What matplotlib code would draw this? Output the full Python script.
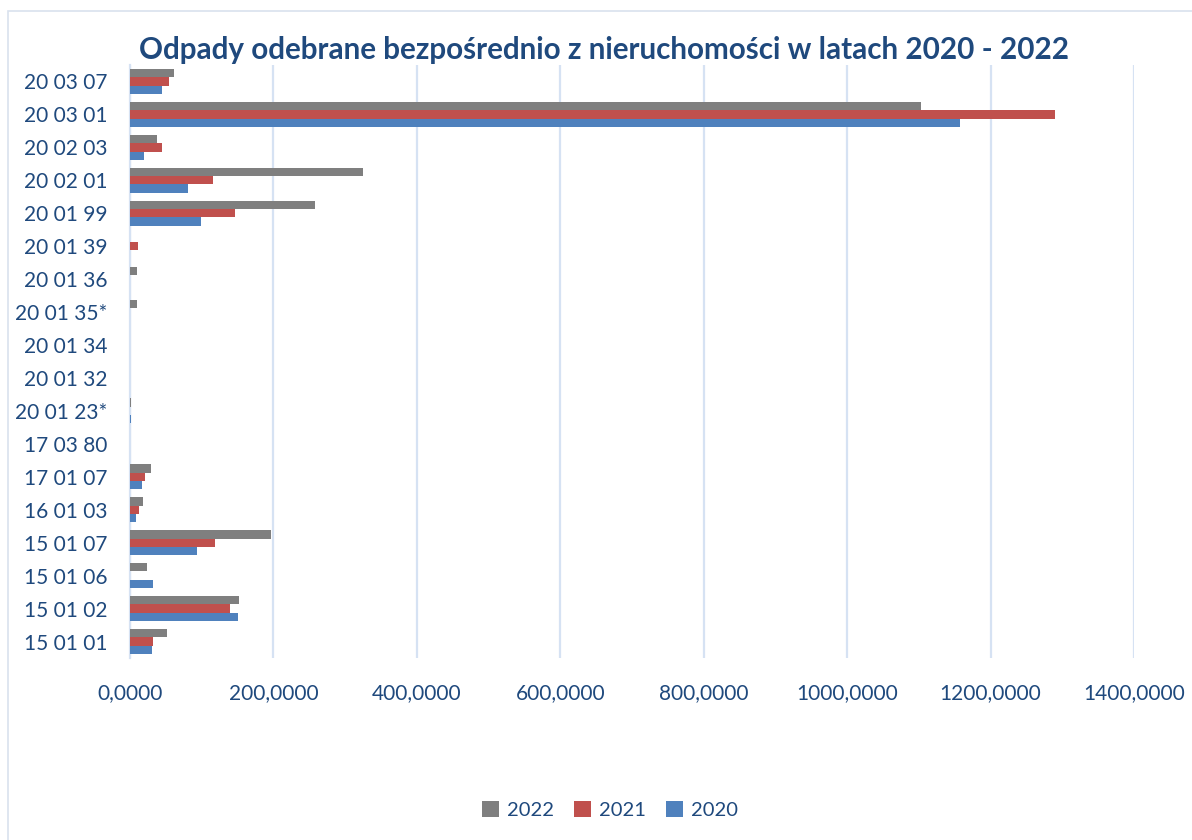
import matplotlib
matplotlib.use("Agg")
import matplotlib.pyplot as plt
from matplotlib.patches import Rectangle
import numpy as np

plt.rcParams["font.family"] = ["Lato", "DejaVu Sans"]

# categories listed bottom -> top, as drawn
categories = ["15 01 01", "15 01 02", "15 01 06", "15 01 07", "16 01 03",
              "17 01 07", "17 03 80", "20 01 23*", "20 01 32", "20 01 34",
              "20 01 35*", "20 01 36", "20 01 39", "20 01 99", "20 02 01",
              "20 02 03", "20 03 01", "20 03 07"]

v2020 = [30.7, 150.6, 32.0, 93.4, 8.4, 16.7, 0.3, 0.8, 0.2, 0.3,
         0.5, 0.5, 0.0, 99.0, 80.9, 19.5, 1157.0, 44.6]
v2021 = [32.0, 139.5, 0.0, 118.5, 12.6, 20.9, 0.5, 0.3, 0.2, 0.5,
         0.3, 0.3, 11.2, 146.4, 115.8, 44.6, 1290.0, 54.4]
v2022 = [51.2, 152.5, 23.2, 196.0, 18.6, 29.3, 0.2, 0.8, 0.3, 0.2,
         9.3, 10.2, 0.0, 258.4, 325.0, 37.2, 1103.0, 61.4]

xticks = [0, 200, 400, 600, 800, 1000, 1200, 1400]

text_col = "#1f497d"
grid_col = "#d6e2f3"

fig = plt.figure(figsize=(11.92, 8.4), dpi=100)
fig.patches.append(Rectangle((8 / 1192, -0.01), 1.0, 1 - 11 / 840 + 0.01,
                             transform=fig.transFigure, fill=False,
                             edgecolor="#d9e2ee", lw=1.2))
ax = fig.add_axes([130 / 1192, 1 - 658 / 840, (1134 - 130) / 1192, (658 - 65) / 840])

y = np.arange(len(categories))
h = 0.253
ax.barh(y + h, v2022, height=h, color="#7f7f7f", label="2022", zorder=3)
ax.barh(y, v2021, height=h, color="#c0504d", label="2021", zorder=3)
ax.barh(y - h, v2020, height=h, color="#4f81bd", label="2020", zorder=3)

ax.set_xlim(0, 1400)
ax.set_ylim(-0.5, len(categories) - 0.5)
ax.set_xticks(xticks)
ax.set_xticklabels([f"{t:.4f}".replace(".", ",") for t in xticks])
ax.set_yticks(y)
ax.set_yticklabels(categories)
ax.tick_params(axis="both", length=0, labelsize=15, colors=text_col)
ax.tick_params(axis="y", pad=16)
ax.tick_params(axis="x", pad=18)

ax.grid(axis="x", color=grid_col, lw=1.6, zorder=0)
for s in ["top", "right", "bottom"]:
    ax.spines[s].set_visible(False)
ax.spines["left"].set_color(grid_col)
ax.spines["left"].set_linewidth(1.6)

fig.text(604 / 1192, 1 - 50 / 840,
         "Odpady odebrane bezpośrednio z nieruchomości w latach 2020 - 2022",
         ha="center", va="center", fontsize=21.3, fontweight="bold", color=text_col)

leg = fig.legend(loc="center", bbox_to_anchor=(610 / 1192, 1 - 810 / 840), ncol=3,
                 frameon=False, fontsize=14.5, handlelength=0.85, handleheight=0.85,
                 handletextpad=0.4, columnspacing=1.0)
for t in leg.get_texts():
    t.set_color(text_col)

fig.savefig("out.png", dpi=100)
